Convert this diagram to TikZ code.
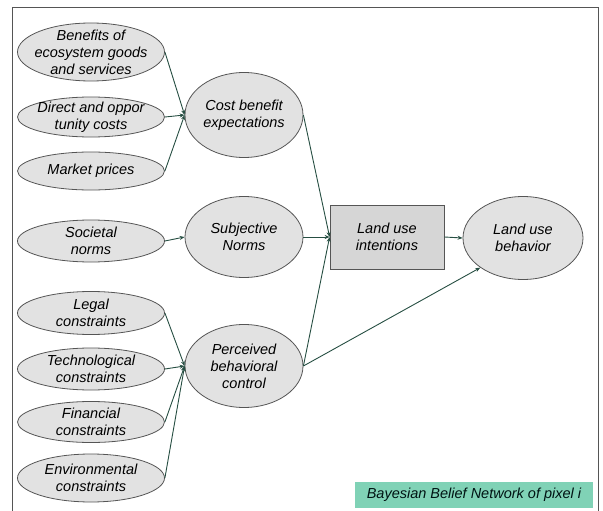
\documentclass[tikz,border=0pt]{standalone}
\usepackage{fontspec}
\setmainfont{Liberation Sans}
\usetikzlibrary{arrows.meta,shapes.geometric}

\definecolor{nodegrey}{RGB}{226,226,226}
\definecolor{boxgrey}{RGB}{214,214,214}
\definecolor{edgegrey}{RGB}{85,85,85}
\definecolor{linkgreen}{RGB}{38,78,66}
\definecolor{tagteal}{RGB}{128,210,182}

\begin{document}
\begin{tikzpicture}[x=1pt, y=-1pt,
  every node/.style={font=\itshape\fontsize{14.5}{17}\selectfont, align=center, inner sep=0pt},
  cause/.style={ellipse, draw=edgegrey, fill=nodegrey, line width=0.8pt,
                minimum width=147pt, label={center:#1}},
  factor/.style={ellipse, draw=edgegrey, fill=nodegrey, line width=0.8pt,
                 minimum width=118pt, minimum height=83pt, label={center:#1}},
  link/.style={draw=linkgreen, line width=0.9pt, -{Stealth[length=5pt,width=4pt]}}]

  \useasboundingbox (0,0) rectangle (603,511);
  \draw[edgegrey, line width=0.8pt] (12,511) -- (12,7) -- (598,7) -- (598,511);

  % left column
  \node[cause={Benefits of\\ecosystem goods\\and services}, minimum height=58pt] (benefits) at (91,52) {};
  \node[cause={Direct and oppor\\tunity costs}, minimum height=40pt] (oppcost) at (91,117) {};
  \node[cause={Market prices}, minimum height=38pt] (market) at (91,171) {};
  \node[cause={Societal\\norms}, minimum height=42pt] (societal) at (91,241) {};
  \node[cause={Legal\\constraints}, minimum height=43pt] (legal) at (91,313) {};
  \node[cause={Technological\\constraints}, minimum height=42pt] (techno) at (91,369) {};
  \node[cause={Financial\\constraints}, minimum height=41pt] (financial) at (91,422) {};
  \node[cause={Environmental\\constraints}, minimum height=48pt] (environ) at (91,478) {};

  % middle column
  \node[factor={Cost benefit\\expectations}, minimum height=85pt] (costben) at (244,115) {};
  \node[factor={Subjective\\Norms}, minimum height=81pt] (subjnorm) at (244,237) {};
  \node[factor={Perceived\\behavioral\\control}] (percbeh) at (244,366) {};

  % right side
  \node[rectangle, draw=edgegrey, fill=boxgrey, line width=0.8pt,
        minimum width=114pt, minimum height=64pt] (intent) at (387,237) {Land use\\intentions};
  \node[factor={Land use\\behavior}, minimum width=120pt] (behavior) at (523,238) {};

  \node[fill=tagteal, minimum width=238pt, minimum height=26pt, text=black!85!teal]
    (bbn) at (474,495) {Bayesian Belief Network of pixel i};

  \draw[link] (benefits.east) -- (costben.west);
  \draw[link] (oppcost.east) -- (costben.west);
  \draw[link] (market.east) -- (costben.west);
  \draw[link] (societal.east) -- (subjnorm.west);
  \draw[link] (legal.east) -- (percbeh.west);
  \draw[link] (techno.east) -- (percbeh.west);
  \draw[link] (financial.east) -- (percbeh.west);
  \draw[link] (environ.east) -- (percbeh.west);

  \draw[link] (costben.east) -- (intent.west);
  \draw[link] (subjnorm.east) -- (intent.west);
  \draw[link] (percbeh.east) -- (intent.west);
  \draw[link] (intent.east) -- (behavior.west);
  \draw[link] (percbeh.east) -- (behavior.south west);
\end{tikzpicture}
\end{document}
